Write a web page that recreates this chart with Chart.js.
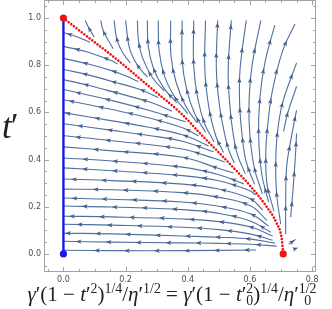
<!DOCTYPE html>
<html>
<head>
<meta charset="utf-8">
<title>Stream plot</title>
<style>
  body { margin: 0; background: #fff; }
  #box { position: relative; width: 332px; height: 309px; overflow: hidden; }
  /* canvas is 4px taller and moved up so the frame touches the top edge */
  #plot { position: absolute; left: 0; top: -4px; }
  #ylab { position: absolute; left: 2px; top: 107px; font: italic 35px "Liberation Serif", serif; line-height: 40px; color: #222; letter-spacing: -3px; }
  #xlab { position: absolute; left: 0; top: 283px; width: 344px; text-align: center;
          font: 21px "Liberation Serif", serif; line-height: 22px; color: #222; white-space: nowrap; }
  #xlab sup { font-size: 0.66em; vertical-align: 0.62em; line-height: 0; }
  .ss { display: inline-flex; flex-direction: column; font-size: 0.66em; line-height: 0.85; vertical-align: 0.6em; }
</style>
</head>
<body>
<div id="box">
  <canvas id="plot" width="332" height="313"></canvas>
  <div id="ylab">t′</div>
  <div id="xlab"><i>γ</i>′(1 − <i>t</i>′<sup>2</sup>)<sup>1/4</sup>/<i>η</i>′<sup>1/2</sup> = <i>γ</i>′(1 − <i>t</i>′<span class="ss"><span>2</span><span>0</span></span>)<sup>1/4</sup>/<i>η</i>′<span class="ss"><span>1/2</span><span>0</span></span></div>
</div>

<script src="https://cdn.jsdelivr.net/npm/chart.js"></script>
<script>
  // tick labels
  const xLabelTicks = [0.0, 0.2, 0.4, 0.6, 0.8];
  const yLabelTicks = [0.0, 0.2, 0.4, 0.6, 0.8, 1.0];

  // red dotted curve, from (0,1) down to the node at (0.707, 0)
  const sepX = [0, 0.08, 0.164, 0.27, 0.383, 0.441, 0.522, 0.602, 0.65, 0.686, 0.702, 0.707];
  const sepY = [1.0, 0.918, 0.833, 0.716, 0.59, 0.509, 0.40, 0.287, 0.207, 0.13, 0.067, 0.0];

  // blue line on x = 0 and the end points
  const wallX = [0, 0];
  const wallY = [0, 1];
  const redNodeX = [0, 0.707];
  const redNodeY = [1, 0];
  const blueNodeX = [0];
  const blueNodeY = [0];

  // stream lines under the red curve, listed in flow direction (right -> left)
  const leftwardLines = [
    [[0.62,0.017],[0.38,0.014],[0.16,0.014],[0,0.016]],
    [[0.686,0.033],[0.603,0.041],[0.5,0.045],[0.383,0.047],[0.157,0.05],[0,0.054]],
    [[0.68,0.046],[0.603,0.063],[0.5,0.071],[0.383,0.076],[0.157,0.085],[0,0.088]],
    [[0.673,0.058],[0.603,0.084],[0.5,0.103],[0.383,0.113],[0.157,0.122],[0,0.126]],
    [[0.673,0.075],[0.603,0.114],[0.5,0.137],[0.383,0.148],[0.157,0.157],[0,0.16]],
    [[0.667,0.092],[0.603,0.139],[0.5,0.172],[0.383,0.188],[0.157,0.199],[0,0.203]],
    [[0.66,0.118],[0.603,0.169],[0.5,0.202],[0.383,0.22],[0.157,0.232],[0,0.237]],
    [[0.654,0.143],[0.603,0.203],[0.5,0.24],[0.383,0.26],[0.157,0.272],[0,0.275]],
    [[0.641,0.186],[0.603,0.233],[0.5,0.275],[0.383,0.296],[0.157,0.311],[0,0.318]],
    [[0.618,0.25],[0.6,0.268],[0.5,0.31],[0.383,0.332],[0.157,0.353],[0,0.365]],
    [[0.58,0.297],[0.5,0.336],[0.383,0.368],[0.157,0.394],[0,0.407]],
    [[0.547,0.343],[0.5,0.362],[0.383,0.41],[0.157,0.437],[0,0.454]],
    [[0.519,0.39],[0.45,0.42],[0.383,0.445],[0.157,0.48],[0,0.501]],
    [[0.483,0.433],[0.383,0.478],[0.27,0.503],[0.157,0.524],[0,0.552]],
    [[0.467,0.458],[0.383,0.505],[0.27,0.538],[0.157,0.564],[0,0.599]],
    [[0.435,0.50],[0.383,0.535],[0.28,0.575],[0.157,0.612],[0,0.654]],
    [[0.393,0.56],[0.28,0.607],[0.157,0.65],[0,0.697]],
    [[0.35,0.605],[0.28,0.643],[0.157,0.688],[0.08,0.715],[0,0.739]],
    [[0.305,0.663],[0.247,0.697],[0.157,0.731],[0.08,0.759],[0,0.782]],
    [[0.241,0.731],[0.2,0.755],[0.157,0.776],[0.08,0.805],[0,0.829]],
    [[0.175,0.805],[0.157,0.818],[0.08,0.855],[0,0.88]],
    [[0.086,0.897],[0.045,0.92],[0,0.939]]
  ];

  // stream lines above / right of the red curve, in flow direction (upwards)
  const upwardLines = [
    [[0.099,0.92],[0.083,0.955],[0.07,0.99]],
    [[0.16,0.87],[0.14,0.915],[0.127,0.95],[0.12,0.99]],
    [[0.215,0.81],[0.19,0.855],[0.172,0.91],[0.163,0.99]],
    [[0.27,0.75],[0.238,0.80],[0.213,0.87],[0.2,0.99]],
    [[0.325,0.69],[0.285,0.75],[0.255,0.83],[0.241,0.91],[0.238,0.99]],
    [[0.365,0.64],[0.322,0.705],[0.29,0.785],[0.273,0.88],[0.27,0.99]],
    [[0.40,0.595],[0.358,0.665],[0.325,0.755],[0.308,0.86],[0.305,0.99]],
    [[0.43,0.555],[0.392,0.63],[0.362,0.73],[0.346,0.84],[0.345,0.99]],
    [[0.458,0.515],[0.422,0.595],[0.396,0.70],[0.382,0.82],[0.382,0.99]],
    [[0.485,0.475],[0.455,0.55],[0.432,0.66],[0.419,0.80],[0.419,0.99]],
    [[0.515,0.43],[0.49,0.50],[0.468,0.62],[0.455,0.78],[0.457,0.99]],
    [[0.55,0.385],[0.532,0.44],[0.52,0.50],[0.503,0.62],[0.492,0.78],[0.496,0.99]],
    [[0.585,0.34],[0.56,0.42],[0.547,0.50],[0.536,0.62],[0.53,0.78],[0.54,0.99]],
    [[0.615,0.295],[0.588,0.39],[0.575,0.50],[0.567,0.63],[0.568,0.78],[0.588,0.99]],
    [[0.64,0.255],[0.615,0.36],[0.60,0.50],[0.597,0.64],[0.607,0.80],[0.635,0.99]],
    [[0.66,0.22],[0.638,0.34],[0.628,0.50],[0.632,0.66],[0.648,0.81],[0.68,0.97]],
    [[0.677,0.182],[0.655,0.296],[0.651,0.423],[0.656,0.53],[0.672,0.69],[0.705,0.86],[0.745,0.975]],
    [[0.699,0.126],[0.686,0.253],[0.683,0.381],[0.688,0.508],[0.705,0.64],[0.75,0.81]],
    [[0.708,0.52],[0.722,0.6],[0.75,0.71]],
    [[0.715,0.084],[0.715,0.223],[0.718,0.368],[0.731,0.479],[0.75,0.61]],
    [[0.731,0.156],[0.739,0.28],[0.746,0.41],[0.75,0.51]],
    [[0.725,0.041],[0.747,0.062]],
    [[0.741,0.02],[0.75,0.024]]
  ];

  const streamColor = '#5070a0';
  const zip = (xs, ys) => xs.map((x, i) => ({ x: x, y: ys[i] }));
  const toPts = line => line.map(p => ({ x: p[0], y: p[1] }));
  const isLabelled = (v, list) => list.some(t => Math.abs(t - v) < 1e-6);

  const datasets = [
    { data: zip(redNodeX, redNodeY), showLine: false, pointRadius: 3.6, pointBackgroundColor: '#ee1414', pointBorderWidth: 0, order: 0 },
    { data: zip(blueNodeX, blueNodeY), showLine: false, pointRadius: 3.6, pointBackgroundColor: '#1a1ae8', pointBorderWidth: 0, order: 0 },
    { data: zip(sepX, sepY), showLine: true, borderColor: '#ee1414', borderWidth: 2.6, borderDash: [0.01, 3.3],
      borderCapStyle: 'round', cubicInterpolationMode: 'monotone', pointRadius: 0, order: 1 },
    { data: zip(wallX, wallY), showLine: true, borderColor: '#1a1ae8', borderWidth: 2.4, pointRadius: 0, order: 2 }
  ];
  leftwardLines.concat(upwardLines).forEach((line, i) => {
    datasets.push({
      data: toPts(line), showLine: true, borderColor: streamColor, borderWidth: 1.1, tension: 0.4,
      pointRadius: 0, pointHoverRadius: 0, order: 3,
      arrowGap: 30, arrowStart: 9 + (i * 9) % 22
    });
  });

  // small arrow heads along each stream line, placed by arc length on the drawn curve
  const arrowHeads = {
    id: 'arrowHeads',
    afterDatasetDraw(chart, args) {
      const ds = chart.data.datasets[args.index];
      if (!ds.arrowGap) return;
      const pts = args.meta.data;
      const path = [];
      for (let k = 0; k < pts.length - 1; k++) {
        const p = pts[k], q = pts[k + 1];
        const ax = p.cp2x ?? p.x, ay = p.cp2y ?? p.y, bx = q.cp1x ?? q.x, by = q.cp1y ?? q.y;
        for (let s = 0; s < 12; s++) {
          const t = s / 12, u = 1 - t;
          path.push([u*u*u*p.x + 3*u*u*t*ax + 3*u*t*t*bx + t*t*t*q.x,
                     u*u*u*p.y + 3*u*u*t*ay + 3*u*t*t*by + t*t*t*q.y]);
        }
      }
      const last = pts[pts.length - 1];
      path.push([last.x, last.y]);
      const seg = [];
      let total = 0;
      for (let k = 1; k < path.length; k++) {
        const d = Math.hypot(path[k][0] - path[k-1][0], path[k][1] - path[k-1][1]);
        seg.push(d);
        total += d;
      }
      const marks = [];
      if (total < ds.arrowStart + 4) marks.push(total / 2);
      else for (let s = ds.arrowStart; s < total - 4; s += ds.arrowGap) marks.push(s);

      const ctx = chart.ctx;
      ctx.save();
      ctx.fillStyle = '#44618f';
      marks.forEach(m => {
        let acc = 0, k = 0;
        while (k < seg.length - 1 && acc + seg[k] < m) { acc += seg[k]; k++; }
        const f = seg[k] ? (m - acc) / seg[k] : 0;
        const [x0, y0] = path[k], [x1, y1] = path[k + 1];
        const x = x0 + (x1 - x0) * f, y = y0 + (y1 - y0) * f;
        const len = Math.hypot(x1 - x0, y1 - y0) || 1;
        const dx = (x1 - x0) / len, dy = (y1 - y0) / len;
        ctx.beginPath();
        ctx.moveTo(x + dx * 3.2, y + dy * 3.2);
        ctx.lineTo(x - dx * 2.6 - dy * 2.2, y - dy * 2.6 + dx * 2.2);
        ctx.lineTo(x - dx * 1.3, y - dy * 1.3);
        ctx.lineTo(x - dx * 2.6 + dy * 2.2, y - dy * 2.6 - dx * 2.2);
        ctx.closePath();
        ctx.fill();
      });
      ctx.restore();
    }
  };

  // grey frame with inward ticks on all four sides
  const frameTicks = {
    id: 'frameTicks',
    afterDraw(chart) {
      const { ctx, chartArea: a, scales } = chart;
      const L = Math.round(a.left) + 0.5, R = Math.round(a.right) - 0.5;
      const T = Math.round(a.top) + 0.5, B = Math.round(a.bottom) - 0.5;
      ctx.save();
      ctx.strokeStyle = '#a3a3a3';
      ctx.lineWidth = 1;
      ctx.beginPath();
      ctx.rect(L, T, R - L, B - T);
      scales.x.ticks.forEach(t => {
        const p = Math.round(scales.x.getPixelForValue(t.value)) + 0.5;
        const n = isLabelled(t.value, xLabelTicks) ? 4.5 : 2.5;
        ctx.moveTo(p, B); ctx.lineTo(p, B - n);
        ctx.moveTo(p, T); ctx.lineTo(p, T + n);
      });
      scales.y.ticks.forEach(t => {
        const p = Math.round(scales.y.getPixelForValue(t.value)) + 0.5;
        const n = isLabelled(t.value, yLabelTicks) ? 4.5 : 2.5;
        ctx.moveTo(L, p); ctx.lineTo(L + n, p);
        ctx.moveTo(R, p); ctx.lineTo(R - n, p);
      });
      ctx.stroke();
      ctx.restore();
    }
  };

  const tickFont = { family: 'DejaVu Sans', size: 8 };

  new Chart(document.getElementById('plot'), {
    type: 'scatter',
    data: { datasets: datasets },
    options: {
      responsive: false,
      animation: false,
      events: [],
      layout: { padding: { top: 0.5, right: 16, left: 0, bottom: 0 } },
      plugins: { legend: { display: false }, tooltip: { enabled: false } },
      scales: {
        x: {
          type: 'linear', min: -0.0625, max: 0.8125,
          grid: { display: false, drawTicks: false }, border: { display: false },
          ticks: {
            stepSize: 0.05, includeBounds: false, autoSkip: false, maxRotation: 0, padding: 3,
            color: '#4d4d4d', font: tickFont,
            callback: v => isLabelled(v, xLabelTicks) ? v.toFixed(1) : ''
          },
          afterFit: s => { s.height = 37; s.paddingLeft = 0; s.paddingRight = 0; }
        },
        y: {
          type: 'linear', min: -0.0765, max: 1.0765,
          grid: { display: false, drawTicks: false }, border: { display: false },
          ticks: {
            stepSize: 0.05, includeBounds: false, autoSkip: false, padding: 3,
            color: '#4d4d4d', font: tickFont,
            callback: v => isLabelled(v, yLabelTicks) ? v.toFixed(1) : ''
          },
          afterFit: s => { s.width = 44; s.paddingTop = 0; s.paddingBottom = 0; }
        }
      }
    },
    plugins: [arrowHeads, frameTicks]
  });
</script>
</body>
</html>
